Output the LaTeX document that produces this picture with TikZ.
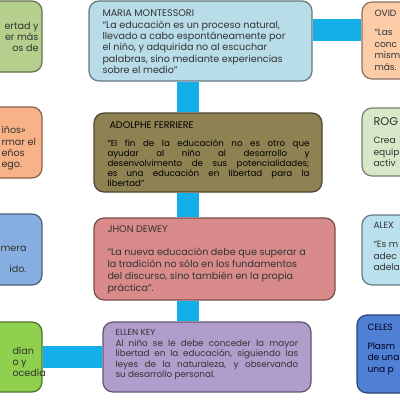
\documentclass[tikz,border=0pt]{standalone}
\usepackage{fontspec}
\setmainfont{Poppins}
\usetikzlibrary{positioning}
\tikzset{every picture/.style={line width=0.75pt}}

\definecolor{barblue}{HTML}{14AFE8}
\definecolor{montblue}{HTML}{B8DCE8}
\definecolor{ferrolive}{HTML}{8E8152}
\definecolor{deweyrose}{HTML}{D98B8B}
\definecolor{ellenlav}{HTML}{B09DCB}
\definecolor{sagegreen}{HTML}{B5CF8C}
\definecolor{peachorange}{HTML}{F8B287}
\definecolor{softblue}{HTML}{87AEE0}
\definecolor{limegreen}{HTML}{8FD04F}
\definecolor{ovidpeach}{HTML}{FCCBA8}
\definecolor{rogsage}{HTML}{D8E7C7}
\definecolor{alexsky}{HTML}{B9E0EC}
\definecolor{celesblue}{HTML}{4F80D3}
\definecolor{txtdark}{HTML}{333333}

\begin{document}
\begin{tikzpicture}[x=0.75pt,y=0.75pt,yscale=-1,xscale=1,
  box/.style={draw=#1!55!black, fill=#1, rounded corners=7.5pt, line width=0.9pt, inner sep=0pt},
  bar/.style={draw=barblue, line width=16pt},
  txt/.style={anchor=north west, inner sep=0pt, align=left, text=txtdark, font=\fontsize{7.2}{8.5}\selectfont},
  edge txt/.style={txt, font=\fontsize{6.8}{8.6}\selectfont}]
\useasboundingbox (0,0) rectangle (400,400);
\clip (0,0) rectangle (400,400);

%Shape: Rounded Rect 
\node[box=montblue, minimum width=167.25pt, minimum height=60pt] (mont) at (200.5,41) {};
%Shape: Rounded Rect 
\node[box=ferrolive, minimum width=171pt, minimum height=59.25pt] (ferr) at (208,152.5) {};
%Shape: Rounded Rect 
\node[box=deweyrose, minimum width=180.75pt, minimum height=61.5pt] (dewey) at (214.5,259) {};
%Shape: Rounded Rect 
\node[box=ellenlav, minimum width=156pt, minimum height=52.5pt] (ellen) at (207,357) {};

%Shape: Rounded Rect 
\node[box=sagegreen, minimum width=120pt, minimum height=53.25pt] (lgreen) at (-38,36.5) {};
%Shape: Rounded Rect 
\node[box=peachorange, minimum width=120pt, minimum height=53.25pt] (lorange) at (-38,142.5) {};
%Shape: Rounded Rect 
\node[box=softblue, minimum width=120pt, minimum height=53.25pt] (lblue) at (-38,249.5) {};
%Shape: Rounded Rect 
\node[box=limegreen, minimum width=120pt, minimum height=52.5pt] (llime) at (-38,357) {};

%Shape: Rounded Rect 
\node[box=ovidpeach, minimum width=118.5pt, minimum height=57.75pt] (ovid) at (441,40.5) {};
%Shape: Rounded Rect 
\node[box=rogsage, minimum width=118.5pt, minimum height=51pt] (rog) at (441,142) {};
%Shape: Rounded Rect 
\node[box=alexsky, minimum width=118.5pt, minimum height=52.5pt] (alex) at (441,250) {};
%Shape: Rounded Rect 
\node[box=celesblue, minimum width=122.25pt, minimum height=58.5pt] (celes) at (438.5,354) {};

%Straight Lines 
\coordinate (spine) at (188,0);
\coordinate (toprow) at (0,30);
\draw[bar] (mont.south -| spine) -- (ferr.north -| spine);
\draw[bar] (ferr.south -| spine) -- (dewey.north -| spine);
\draw[bar] (dewey.south -| spine) -- (ellen.north -| spine);
\draw[bar] (mont.east |- toprow) -- (ovid.west |- toprow);
\draw[bar] (llime.east) -- (ellen.west);

% Text Node
\node[txt] (montT) at (102,9.5) {MARIA MONTESSORI\\“La educación es un proceso natural,\\llevado a cabo espontáneamente por\\el niño, y adquirida no al escuchar\\palabras, sino mediante experiencias\\sobre el medio”};
% Text Node
\node[txt, text=black] (ferrH) at (109,121) {ADOLPHE FERRIERE};
% Text Node
\node[txt, text=black, align=justify, text width=151.5pt, font=\fontsize{6.5}{7.5}\selectfont] (ferrT) at (107,139) {“El fin de la educación no es otro que\linebreak ayudar al niño al desarrollo y\linebreak desenvolvimento de sus potencialidades;\linebreak es una educación en libertad para la\linebreak libertad”};
% Text Node
\node[txt] (deweyH) at (107,225.5) {JHON DEWEY};
% Text Node
\node[txt, font=\fontsize{7.2}{9}\selectfont] (deweyT) at (107,247) {“La nueva educación debe que superar a\\la tradición no sólo en los fundamentos\\del discurso, sino también en la propia\\práctica”.};
% Text Node
\node[txt, font=\fontsize{6.6}{7.9}\selectfont] (ellenH) at (115,328.5) {ELLEN KEY};
% Text Node
\node[txt, align=justify, text width=137pt, font=\fontsize{6.6}{7.9}\selectfont] (ellenT) at (115,339) {Al niño se le debe conceder la mayor\linebreak libertad en la educación, siguiendo las\linebreak leyes de la naturaleza, y observando\linebreak su desarrollo personal.};

% Text Node
\node[txt, anchor=north east, align=right] (lgreenT) at (39,21.5) {ertad y\\er más\\os de};
% Text Node
\node[txt] (lorangeT) at (1,126) {iños»\\rmar el\\eños\\ego.};
% Text Node
\node[txt, anchor=north east, align=right] (lblueT) at (27,244) {imera\\[7pt]ido.};
% Text Node
\node[txt] (llimeT) at (12,346) {dían\\o y\\ocedía};

% Text Node
\node[edge txt] (ovidH) at (374,9.5) {OVID};
% Text Node
\node[edge txt] (ovidT) at (374,29) {“Las\\conc\\mism\\más.};
% Text Node
\node[txt, font=\fontsize{8.5}{9}\selectfont] (rogH) at (373,117) {ROG};
% Text Node
\node[edge txt] (rogT) at (373,137) {Crea\\equip\\activ};
% Text Node
\node[edge txt] (alexH) at (373,221.5) {ALEX};
% Text Node
\node[edge txt] (alexT) at (373,241) {“Es m\\adec\\adela};
% Text Node
\node[edge txt, text=black!85!blue] (celesH) at (367,323.5) {CELES};
% Text Node
\node[edge txt, text=black!85!blue] (celesT) at (367,342) {Plasm\\de una\\una p};

\end{tikzpicture}
\end{document}
